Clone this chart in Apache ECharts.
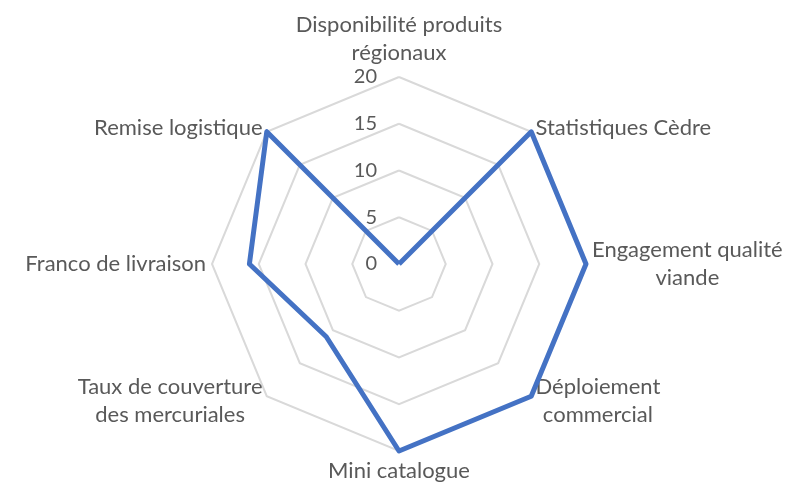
<!DOCTYPE html>
<html><head><meta charset="utf-8">
<script src="https://cdn.jsdelivr.net/npm/echarts@6/dist/echarts.min.js"></script>
<style>html,body{margin:0;padding:0;background:#fff}#c{width:789px;height:485px}</style>
</head><body><div id="c"></div>
<script>
const categories = ["Disponibilité produits\nrégionaux","Statistiques Cèdre","Engagement qualité\nviande","Déploiement\ncommercial","Mini catalogue","Taux de couverture\ndes mercuriales","Franco de livraison","Remise logistique"];
const values = [0,20,20,20,20,11,16,20];
const maxValue = 20;
const tickStep = 5;

// ECharts lays indicators counter-clockwise; the reference goes clockwise
const order = [0].concat(categories.map((_,i)=>i).slice(1).reverse());

const chart = echarts.init(document.getElementById('c'));
const font = 'Lato, sans-serif';
const fs = 22;
chart.setOption({
  animation:false,
  radar:{
    center:[399,264], radius:187, startAngle:90,
    shape:'polygon', splitNumber: maxValue/tickStep,
    indicator: order.map((k,i)=>({name:categories[k], min:0, max:maxValue, axisLabel: i===0?{show:true}:{show:false}})),
    axisName:{color:'#595959', fontFamily:font, fontSize:fs, lineHeight:28,
      formatter:(v)=>v.split('\n').map(s=>'{c|'+s+'}').join('\n'),
      rich:{c:{align:'center',color:'#595959',fontFamily:font,fontSize:fs,lineHeight:28}}},
    nameGap:6,
    axisLine:{show:false}, axisTick:{show:false},
    splitLine:{lineStyle:{color:'#d9d9d9', width:2}},
    splitArea:{show:false},
    axisLabel:{show:false, color:'#595959', fontFamily:font, fontSize:20, margin:22}
  },
  series:[{type:'radar', symbol:'none', lineStyle:{color:'#4472C4', width:5},
    data:[{value:order.map(k=>values[k])}]}]
});
</script></body></html>
